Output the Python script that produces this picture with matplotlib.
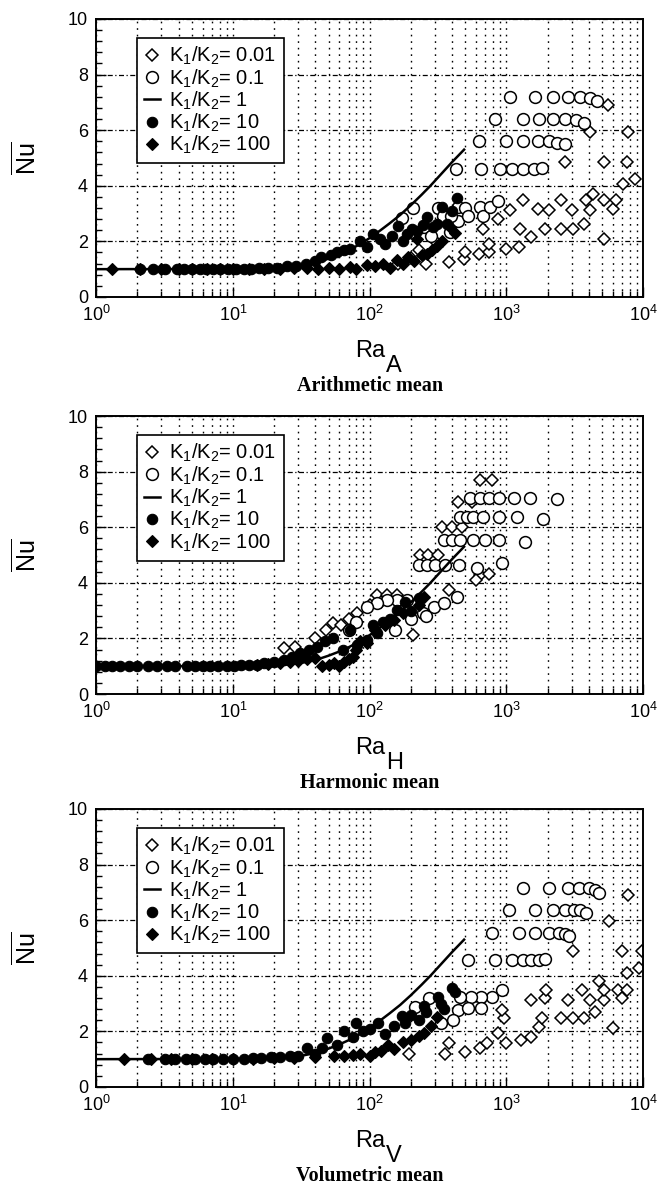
import matplotlib
matplotlib.use("Agg")
import matplotlib.pyplot as plt
from matplotlib.lines import Line2D
from matplotlib.ticker import LogLocator, MultipleLocator, NullFormatter

plt.rcParams['font.family'] = ['Liberation Sans', 'DejaVu Sans']
plt.rcParams['mathtext.fontset'] = 'custom'
plt.rcParams['mathtext.rm'] = 'Liberation Sans'
plt.rcParams['mathtext.it'] = 'Liberation Sans:italic'
plt.rcParams['mathtext.bf'] = 'Liberation Sans:bold'

# K1/K2 = 1 curve (same in all three panels)
line_ra = [1, 10, 20, 30, 40, 50, 60, 70, 80, 90, 100, 120, 140, 167, 200, 240, 278, 330, 400, 490]
line_nu = [1.0, 1.01, 1.04, 1.1, 1.22, 1.38, 1.53, 1.68, 1.83, 1.98, 2.12, 2.4, 2.65, 2.95, 3.3, 3.68,
           4.0, 4.4, 4.85, 5.3]

# ---- arithmetic mean ----
A_k001_ra = [257, 380, 490, 500, 630, 745, 745, 670, 870, 1000, 1230, 1260, 1070, 1320, 1510, 1900,
             1700, 2040, 2510, 2510, 3090, 3020, 3700, 3800, 4100, 4270, 5130, 5130, 6030, 6310, 7080,
             8710, 7590, 5130, 2690, 4100, 7760, 5500, 200, 230, 160, 300]
A_k001_nu = [1.2, 1.26, 1.38, 1.62, 1.56, 1.62, 1.92, 2.46, 2.82, 1.74, 1.8, 2.46, 3.12, 3.48, 2.16, 2.46,
             3.18, 3.12, 3.48, 2.46, 2.46, 3.12, 2.64, 3.48, 3.12, 3.72, 2.1, 3.48, 3.18, 3.48, 4.08,
             4.26, 4.86, 4.86, 4.86, 5.94, 5.94, 6.9, 1.4, 1.7, 1.2, 2.0]
A_k01_ra = [1070, 1630, 2180, 2810, 3460, 4100, 4570,
            830, 1320, 1740, 2180, 2690, 3220, 3700,
            630, 1000, 1320, 1700, 2040, 2340, 2690,
            425, 650, 890, 1100, 1320, 1590, 1820,
            173, 209, 316, 345, 389, 445, 445, 500, 525, 645, 675, 760, 870, 250, 280, 390]
A_k01_nu = [7.2, 7.2, 7.2, 7.2, 7.2, 7.15, 7.05,
            6.4, 6.4, 6.4, 6.4, 6.4, 6.35, 6.25,
            5.6, 5.6, 5.6, 5.6, 5.6, 5.55, 5.5,
            4.6, 4.6, 4.6, 4.6, 4.6, 4.6, 4.65,
            2.83, 3.19, 3.19, 2.93, 2.32, 3.22, 2.75, 3.19, 2.93, 3.22, 2.93, 3.22, 3.46, 2.5, 2.2, 2.9]
A_k10_ra = [2.1, 2.6, 3.2, 3.9, 4.4, 5.0, 5.7, 6.4, 7.2, 8.1, 9.2, 10.5, 12, 13.5, 15.5, 18, 21, 25, 29,
            34, 40, 44, 52, 58, 65, 72, 85, 95, 105, 118, 129, 145, 162, 175, 188, 205, 223, 245, 263,
            290, 310, 339, 370, 400, 436]
A_k10_nu = [1.0, 1.0, 1.0, 1.0, 1.0, 1.0, 1.0, 1.0, 1.0, 1.0, 1.0, 1.0, 1.02, 1.02, 1.03, 1.05, 1.06, 1.1,
            1.12, 1.18, 1.3, 1.45, 1.5, 1.63, 1.7, 1.74, 2.03, 1.8, 2.28, 2.1, 1.92, 2.2, 2.57, 2.0, 2.28,
            2.45, 2.39, 2.6, 2.86, 2.5, 2.64, 3.22, 2.64, 3.1, 3.55]
A_k100_ra = [1.3, 2.1, 3.0, 4.0, 5.0, 6.5, 8, 10, 13, 17, 22, 28, 35, 42, 50, 60, 72, 80, 96, 110, 126,
             140, 159, 175, 192, 210, 223, 240, 263, 285, 310, 340, 389, 420]
A_k100_nu = [1.0, 1.0, 1.0, 1.0, 1.0, 1.0, 1.0, 1.0, 1.0, 1.0, 1.02, 1.03, 1.05, 1.0, 1.05, 1.02, 1.09,
             1.0, 1.15, 1.1, 1.2, 1.05, 1.33, 1.2, 1.45, 1.3, 2.1, 1.5, 1.55, 1.7, 1.85, 2.0, 2.5, 2.3]

# ---- harmonic mean ----
H_k001_ra = [645, 790, 445, 560, 337, 398, 470, 234, 269, 316, 645, 740, 378, 209, 113, 134, 158, 81, 54,
             28.5, 23.5, 40, 48, 62, 70, 100, 120, 600]
H_k001_nu = [7.7, 7.7, 6.9, 6.9, 6.0, 6.0, 6.0, 4.99, 4.99, 4.99, 4.27, 4.33, 3.74, 2.13, 3.56, 3.56,
             3.56, 2.9, 2.55, 1.71, 1.66, 2.0, 2.3, 2.5, 2.7, 3.2, 3.3, 4.1]
H_k01_ra = [543, 643, 740, 875, 1127, 1493, 2339,
            459, 514, 574, 679, 875, 1191, 1866,
            347, 399, 459, 574, 700, 875, 1371,
            228, 262, 301, 357, 447, 608, 927,
            293, 347, 434, 247, 154, 187, 158, 134, 113, 95, 80, 70, 200, 260]
H_k01_nu = [7.07, 7.07, 7.07, 7.07, 7.07, 7.07, 7.0,
            6.36, 6.36, 6.36, 6.36, 6.36, 6.36, 6.3,
            5.55, 5.55, 5.55, 5.55, 5.55, 5.55, 5.46,
            4.63, 4.63, 4.63, 4.63, 4.63, 4.55, 4.7,
            3.14, 3.26, 3.5, 2.9, 2.31, 3.38, 3.38, 3.38, 3.27, 3.13, 2.6, 2.3, 2.7, 2.8]
H_k10_ra = [1.0, 1.15, 1.3, 1.5, 1.75, 2.0, 2.4, 2.8, 3.3, 3.8, 4.6, 5.3, 6.0, 6.8, 7.8, 9.0, 10.2, 11.5,
            13, 15, 17, 20, 23.5, 27, 31, 36, 41, 47, 54, 64, 72, 81, 95, 105, 113, 125, 140, 158, 182,
            200, 228]
H_k10_nu = [1.0, 1.0, 1.0, 1.0, 1.0, 1.0, 1.0, 1.0, 1.0, 1.0, 1.0, 1.0, 1.0, 1.0, 1.0, 1.0, 1.02, 1.03,
            1.04, 1.06, 1.1, 1.15, 1.24, 1.35, 1.48, 1.6, 1.71, 1.9, 2.0, 1.6, 2.3, 1.78, 1.95, 2.5, 2.2,
            2.6, 2.7, 3.02, 3.32, 3.0, 3.44]
H_k100_ra = [15, 18, 22, 26, 30, 35, 40, 45, 50, 55, 60, 65, 70, 75, 80, 85, 95, 110, 130, 150, 175, 230, 250]
H_k100_nu = [1.05, 1.08, 1.1, 1.15, 1.2, 1.25, 1.3, 1.0, 1.05, 1.1, 1.0, 1.15, 1.25, 1.35, 1.6, 1.9, 1.85,
             2.3, 2.5, 2.65, 2.9, 3.2, 3.5]

# ---- volumetric mean ----
V_k001_ra = [195, 355, 380, 500, 640, 720, 870, 960, 930, 1000, 1280, 1520, 1740, 1820, 1500, 1900, 1950,
             2500, 2820, 3090, 3550, 3700, 4100, 4440, 4750, 5130, 5130, 6030, 6500, 7030, 7590, 7590,
             9330, 9850, 7030, 3090, 5630, 7760]
V_k001_nu = [1.2, 1.2, 1.57, 1.27, 1.39, 1.57, 1.93, 2.47, 2.77, 1.57, 1.69, 1.81, 2.17, 2.47, 3.13, 3.19,
             3.49, 2.47, 3.13, 2.47, 3.49, 2.47, 3.13, 2.71, 3.8, 3.13, 3.49, 2.11, 3.49, 3.19, 3.49, 4.1,
             4.28, 4.88, 4.88, 4.88, 5.96, 6.89]
V_k01_ra = [1320, 2040, 2810, 3380, 3990, 4440, 4750,
            1050, 1630, 2180, 2690, 3140, 3460, 3830,
            790, 1230, 1630, 2040, 2410, 2690, 2880,
            525, 830, 1100, 1320, 1520, 1740, 1910,
            930, 780, 650, 550, 455, 440, 525, 650, 410, 330, 270, 215]
V_k01_nu = [7.15, 7.15, 7.15, 7.15, 7.15, 7.1, 6.99,
            6.36, 6.36, 6.36, 6.36, 6.36, 6.36, 6.27,
            5.54, 5.54, 5.54, 5.54, 5.54, 5.5, 5.42,
            4.55, 4.55, 4.55, 4.55, 4.55, 4.55, 4.6,
            3.49, 3.25, 3.25, 3.25, 3.25, 2.77, 2.83, 2.83, 2.41, 2.29, 3.19, 2.89]
V_k10_ra = [2.4, 3.2, 3.8, 4.5, 5.3, 6.2, 7.2, 8.5, 10, 12, 14, 16, 19, 22, 26, 30, 35, 40, 45, 49, 58,
            65, 75, 80, 90, 100, 115, 130, 150, 172, 180, 200, 230, 250, 260, 317, 330, 350, 398, 420]
V_k10_nu = [1.0, 1.0, 1.0, 1.0, 1.0, 1.0, 1.0, 1.0, 1.0, 1.02, 1.03, 1.05, 1.07, 1.08, 1.1, 1.12, 1.4,
            1.2, 1.4, 1.75, 1.5, 2.0, 1.8, 2.3, 2.0, 2.1, 2.3, 1.9, 2.2, 2.54, 2.3, 2.6, 2.4, 2.9, 2.7,
            3.25, 3.0, 2.8, 3.57, 3.4]
V_k100_ra = [1.6, 2.5, 3.5, 5, 7, 10, 14, 20, 28, 40, 55, 65, 75, 85, 100, 110, 120, 135, 150, 175, 200,
             230, 250, 280, 310]
V_k100_nu = [1.0, 1.0, 1.0, 1.0, 1.0, 1.0, 1.0, 1.03, 1.05, 1.08, 1.1, 1.12, 1.15, 1.2, 1.1, 1.25, 1.3,
             1.5, 1.35, 1.6, 1.7, 1.85, 1.95, 2.2, 2.5]

legend_labels = [r'K$_1$/K$_2$= 0.01', r'K$_1$/K$_2$= 0.1', r'K$_1$/K$_2$= 1',
                 r'K$_1$/K$_2$= 10', r'K$_1$/K$_2$= 100']

fig = plt.figure(figsize=(6.59, 11.86), dpi=100)

panels = [
    (0.7496, (A_k001_ra, A_k001_nu), (A_k01_ra, A_k01_nu), (A_k10_ra, A_k10_nu), (A_k100_ra, A_k100_nu),
     'A', 'Arithmetic mean'),
    (0.4148, (H_k001_ra, H_k001_nu), (H_k01_ra, H_k01_nu), (H_k10_ra, H_k10_nu), (H_k100_ra, H_k100_nu),
     'H', 'Harmonic mean'),
    (0.0835, (V_k001_ra, V_k001_nu), (V_k01_ra, V_k01_nu), (V_k10_ra, V_k10_nu), (V_k100_ra, V_k100_nu),
     'V', 'Volumetric mean'),
]

open_d = dict(ls='none', marker='D', ms=6.3, mfc='white', mec='black', mew=1.1)
open_c = dict(ls='none', marker='o', ms=8.5, mfc='white', mec='black', mew=1.1)
fill_c = dict(ls='none', marker='o', ms=7.5, mfc='black', mec='black', mew=0.8)
fill_d = dict(ls='none', marker='D', ms=5.8, mfc='black', mec='black', mew=0.8)

for bottom, k001, k01, k10, k100, sub, caption in panels:
    ax = fig.add_axes([0.146, bottom, 0.830, 0.2344])
    ax.plot(k001[0], k001[1], **open_d)
    ax.plot(k01[0], k01[1], **open_c)
    ax.plot(k10[0], k10[1], **fill_c)
    ax.plot(k100[0], k100[1], **fill_d)
    ax.plot(line_ra, line_nu, color='black', lw=1.8)

    ax.set_xscale('log')
    ax.set_xlim(1, 1e4)
    ax.set_ylim(0, 10)
    ax.set_yticks(range(0, 11, 2))
    ax.yaxis.set_minor_locator(MultipleLocator(0.4))
    ax.xaxis.set_minor_locator(LogLocator(base=10, subs=range(2, 10)))
    ax.xaxis.set_minor_formatter(NullFormatter())
    ax.tick_params(which='both', direction='in', labelsize=13, width=1)
    ax.tick_params(which='major', length=7, pad=6)
    ax.tick_params(which='minor', length=4)
    ax.grid(which='both', axis='x', color='black', ls=(0, (1.2, 3.5)), lw=1.0)
    ax.grid(which='major', axis='y', color='black', ls=(0, (4, 2, 1, 2)), lw=0.9)
    for sp in ax.spines.values():
        sp.set_linewidth(1.4)

    ax.set_ylabel(r'$\overline{\mathrm{Nu}}$', fontsize=18)
    ax.yaxis.set_label_coords(-0.102, 0.5)
    ax.text(0.528, -0.155, 'Ra', transform=ax.transAxes, ha='right', va='top', fontsize=17)
    ax.text(0.530, -0.209, sub, transform=ax.transAxes, ha='left', va='top', fontsize=17)
    ax.text(0.5, -0.32, caption, transform=ax.transAxes, ha='center', va='center',
            family='Liberation Serif', fontweight='bold', fontsize=14.5)

    handles = [Line2D([], [], **open_d), Line2D([], [], **open_c),
               Line2D([], [], color='black', lw=1.8),
               Line2D([], [], **fill_c), Line2D([], [], **fill_d)]
    leg = ax.legend(handles, legend_labels, loc='upper left', bbox_to_anchor=(0.075, 0.932),
                    borderaxespad=0, fontsize=14.5, handlelength=0.8, handletextpad=0.45,
                    labelspacing=0.0, borderpad=0.35, fancybox=False, framealpha=1,
                    edgecolor='black')
    leg.get_frame().set_linewidth(1.2)

fig.savefig('out.png', dpi=100)
